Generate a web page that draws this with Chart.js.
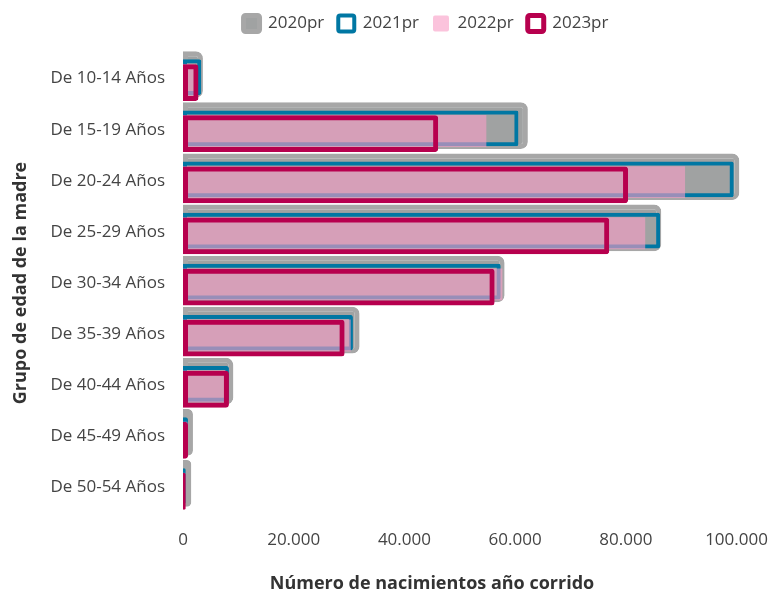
<!DOCTYPE html>
<html>
<head>
<meta charset="utf-8">
<script src="https://cdn.jsdelivr.net/npm/chart.js"></script>
<style>
  html, body { margin: 0; background: #fff; }
  #contenedor { width: 769px; height: 596px; }
</style>
</head>
<body>
<div id="contenedor"><canvas id="graficoNacimientos"></canvas></div>
<script>
const grupos = [
  'De 10-14 Años', 'De 15-19 Años', 'De 20-24 Años', 'De 25-29 Años', 'De 30-34 Años',
  'De 35-39 Años', 'De 40-44 Años', 'De 45-49 Años', 'De 50-54 Años'
];
const datos2020 = [3600, 62300, 100500, 86400, 58100, 31900, 9100, 1800, 1500];
const datos2021 = [3300, 60600, 99500, 86200, 57400, 30700, 8300, 900, 500];
const datos2022 = [2200, 54800, 90700, 83500, 57700, 30300, 7800, 800, 400];
const datos2023 = [2800, 46100, 80400, 77000, 56300, 29200, 8300, 900, 500];
const ticksX = [0, 20000, 40000, 60000, 80000, 100000];

const fuente = "'Open Sans', 'Noto Sans', sans-serif";

function formatoMiles(valor) {
  return valor.toString().replace(/\B(?=(\d{3})+(?!\d))/g, '.');
}

// pinta las series en el orden del arreglo (2020 abajo, 2023 encima)
const ordenDibujo = {
  id: 'ordenDibujo',
  beforeDatasetsDraw(chart) {
    chart.data.datasets.forEach((ds, i) => {
      if (chart.isDatasetVisible(i)) chart.getDatasetMeta(i).controller.draw();
    });
    return false;
  }
};

// espacio bajo la leyenda
const margenLeyenda = {
  id: 'margenLeyenda',
  beforeInit(chart) {
    const fitOriginal = chart.legend.fit;
    chart.legend.fit = function () {
      fitOriginal.bind(chart.legend)();
      this.height += 11;
    };
  },
  // leyenda y título del eje x corridos a la derecha, como en el original
  afterLayout(chart) {
    chart.legend.left += 38;
    chart.legend.right += 38;
    chart.titleBlock.left += 44;
    chart.titleBlock.right += 44;
  }
};

const esquinas = (r) => ({ topLeft: 0, bottomLeft: 0, topRight: r, bottomRight: r });

new Chart(document.getElementById('graficoNacimientos'), {
  type: 'bar',
  data: {
    labels: grupos,
    datasets: [
      {
        label: '2020pr',
        data: datos2020,
        backgroundColor: '#a0a2a2',
        borderColor: '#a7a7a7',
        borderWidth: 5,
        borderRadius: esquinas(7),
        borderSkipped: false,
        barPercentage: 17.4
      },
      {
        label: '2021pr',
        data: datos2021,
        backgroundColor: 'rgba(0,0,0,0)',
        borderColor: '#0077a3',
        borderWidth: 4,
        borderRadius: esquinas(2),
        borderSkipped: false,
        barPercentage: 13.3
      },
      {
        label: '2022pr',
        data: datos2022,
        backgroundColor: 'rgba(248,157,198,0.61)',
        borderWidth: 0,
        barPercentage: 11.9
      },
      {
        label: '2023pr',
        data: datos2023,
        backgroundColor: 'rgba(0,0,0,0)',
        borderColor: '#b7004e',
        borderWidth: 5,
        borderRadius: esquinas(3),
        borderSkipped: false,
        barPercentage: 13.7
      }
    ]
  },
  options: {
    indexAxis: 'y',
    responsive: true,
    maintainAspectRatio: false,
    animation: false,
    datasets: { bar: { categoryPercentage: 0.21 } },
    layout: { padding: { top: 1, right: 3, bottom: 0, left: 10 } },
    plugins: {
      tooltip: { enabled: false },
      legend: {
        position: 'top',
        labels: {
          color: '#444',
          font: { family: fuente, size: 17 },
          boxWidth: 16,
          boxHeight: 16,
          padding: 14,
          useBorderRadius: true,
          borderRadius: 2
        }
      },
      title: {
        display: true,
        position: 'bottom',
        text: 'Número de nacimientos año corrido',
        color: '#333',
        font: { family: fuente, size: 18, weight: 'bold' },
        padding: { top: 22, bottom: 1 }
      }
    },
    scales: {
      x: {
        min: 0,
        max: 102000,
        afterBuildTicks(scale) {
          scale.ticks = ticksX.map(v => ({ value: v }));
        },
        grid: { display: false, drawTicks: true, tickLength: 16 },
        border: { display: false },
        ticks: {
          color: '#444',
          font: { family: fuente, size: 17 },
          padding: 1,
          callback: (v) => formatoMiles(v)
        }
      },
      y: {
        afterFit(scale) {
          scale.width = 173;
        },
        grid: { display: false, drawTicks: false },
        border: { display: false },
        ticks: {
          color: '#444',
          font: { family: fuente, size: 17 },
          padding: 18
        },
        title: {
          display: true,
          text: 'Grupo de edad de la madre',
          color: '#333',
          font: { family: fuente, size: 18, weight: 'bold' },
          padding: { top: 0, bottom: 0 }
        }
      }
    }
  },
  plugins: [ordenDibujo, margenLeyenda]
});
</script>
</body>
</html>
